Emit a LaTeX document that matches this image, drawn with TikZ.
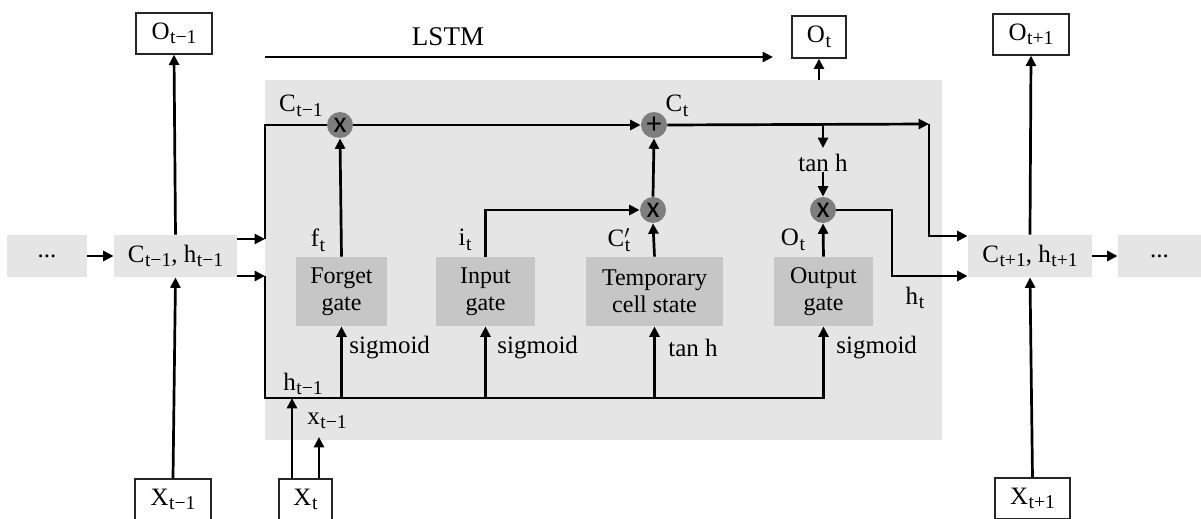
\documentclass[tikz,border=0pt]{standalone}
\usepackage{fontspec}
\setmainfont{Liberation Serif}
\newfontfamily\opfont{Carlito}
\usetikzlibrary{arrows.meta}
\definecolor{panelg}{HTML}{E5E5E5}
\definecolor{gateg}{HTML}{C6C6C6}
\definecolor{opg}{HTML}{7E7E7E}
% letter with an upright subscript, e.g. C with t−1
\newcommand{\lstmsub}[2]{#1\kern0.3pt\raisebox{-0.4ex}{\fontsize{9.8}{10}\selectfont #2}}
\begin{document}
\begin{tikzpicture}[x=0.5pt,y=-0.5pt,
  lbl/.style={font=\fontsize{12.5}{14}\selectfont, inner sep=0pt},
  gatebox/.style={fill=gateg, minimum height=34.5pt, inner sep=1pt, align=center,
    font=\fontsize{12}{13.5}\selectfont},
  statebox/.style={fill=panelg, minimum height=21pt, inner sep=0pt,
    font=\fontsize{12.5}{14}\selectfont},
  iobox/.style={draw=black!85, line width=0.6pt, fill=white, minimum height=20.5pt,
    inner sep=0pt, font=\fontsize{12.5}{14}\selectfont},
  opnode/.style={circle, fill=opg, minimum size=13pt, inner sep=0pt,
    font=\opfont\fontsize{15}{15}\selectfont},
  ln/.style={line width=1.35pt},
  arr/.style={line width=1.35pt, -{Triangle[length=5.2pt,width=5pt]}}
]
\useasboundingbox (0,0) rectangle (1201,519);
\clip (0,0) rectangle (1201,519);

% cell panel
\fill[panelg] (265,80) rectangle (942,440);

% gates
\node[gatebox, minimum width=45.5pt] (fg) at (341.5,291.5) {Forget\\gate};
\node[gatebox, minimum width=49.5pt] (ig) at (485.5,291.5) {Input\\gate};
\node[gatebox, minimum width=68.5pt] (tg) at (654.5,291.5) {Temporary\\cell state};
\node[gatebox, minimum width=49.5pt] (og) at (823.5,291.5) {Output\\gate};

% pointwise operations
\node[opnode] (fx) at (340,125) {x};
\node[opnode] (pl) at (654,125) {+};
\node[opnode] (ix) at (653,210) {x};
\node[opnode] (ox) at (823,210) {x};

% states
\node[statebox, minimum width=40pt] (dl) at (47,256) {...};
\node[statebox, minimum width=61.5pt] (cp) at (175.5,256) {\lstmsub{C}{t−1}, \lstmsub{h}{t−1}};
\node[statebox, minimum width=62pt] (cn) at (1030,256) {\lstmsub{C}{t+1}, \lstmsub{h}{t+1}};
\node[statebox, minimum width=41.5pt] (dr) at (1159.5,256) {...};

% outputs and inputs
\node[iobox, minimum width=38pt] (op) at (174,33.5) {\lstmsub{O}{t−1}};
\node[iobox, minimum width=27pt, minimum height=21pt] (oc) at (819,37) {\lstmsub{O}{t}};
\node[iobox, minimum width=38pt] (on) at (1031,34.5) {\lstmsub{O}{t+1}};
\node[iobox, minimum width=38pt] (xp) at (173,499.5) {\lstmsub{X}{t−1}};
\node[iobox, minimum width=26.5pt] (xc) at (305.5,499.5) {\lstmsub{X}{t}};
\node[iobox, minimum width=37.5pt] (xn) at (1032.5,498.5) {\lstmsub{X}{t+1}};

% labels
\node[lbl, font=\fontsize{13.5}{15}\selectfont] (lstm) at (448,37) {LSTM};
\node[lbl] (lcp) at (301,106) {\lstmsub{C}{t−1}};
\node[lbl] (lct) at (677,106) {\lstmsub{C}{t}};
\node[lbl] (lft) at (318,240) {\lstmsub{f}{t}};
\node[lbl] (lit) at (465,240) {\lstmsub{i}{t}};
\node[lbl] (lcc) at (619,240) {\lstmsub{C\rlap{$^{\prime}$}}{t}};
\node[lbl] (lot) at (793,240) {\lstmsub{O}{t}};
\node[lbl] (lht) at (915,298) {\lstmsub{h}{t}};
\node[lbl] (lhp) at (303,384) {\lstmsub{h}{t−1}};
\node[lbl] (lxp) at (327,421) {\lstmsub{x}{t−1}};
\node[lbl, anchor=west] (s1) at (349,348) {sigmoid};
\node[lbl, anchor=west] (s2) at (497,348) {sigmoid};
\node[lbl, anchor=west] (s3) at (668,348) {tan h};
\node[lbl, anchor=west] (s4) at (836,348) {sigmoid};
\node[lbl] (th) at (823,163) {tan h};

% routing points
\coordinate (la) at (265,57);
\coordinate (lb) at (773,57);
\coordinate (ca) at (265,125);
\coordinate (cb) at (265,239);
\coordinate (cc) at (265,276);
\coordinate (cd) at (265,398);
\coordinate (ce) at (929,124);
\coordinate (cf) at (929,236);
\coordinate (tt) at (823,124);
\coordinate (tb) at (823,148);
\coordinate (hb) at (892,210);
\coordinate (hc) at (892,276);
\coordinate (pt) at (819,80);
\coordinate (xi) at (319,437);

% LSTM time arrow
\draw[arr] (la) -- (lb);
\draw[arr] (pt) -- (oc.south);

% neighbouring steps
\draw[arr] (dl.east) -- (cp.west);
\draw[arr] (cn.east) -- (dr.west);
\draw[arr] (cp.north) -- (op.south);
\draw[arr] (xp.north) -- (cp.south);
\draw[arr] (cn.north) -- (on.south);
\draw[arr] (xn.north) -- (cn.south);

% into the cell
\draw[arr] (cp.east |- cb) -- (cb);
\draw[arr] (cp.east |- cc) -- (cc);
\draw[ln] (cb) -- (ca) -- (fx.west);
\draw[arr] (cc) -- (cd) -| (og.south);
\draw[arr] (fg.south |- cd) -- (fg.south);
\draw[arr] (ig.south |- cd) -- (ig.south);
\draw[arr] (tg.south |- cd) -- (tg.south);
\draw[arr] ([xshift=-6.75pt]xc.north) -- ([xshift=-6.75pt]xc.north |- cd);
\draw[arr] (xi |- xc.north) -- (xi);

% cell state path
\draw[arr] (fg.north) -- (fx.south);
\draw[arr] (fx.east) -- (pl.west);
\draw[arr] (ig.north) |- (ix.west);
\draw[arr] (tg.north) -- (ix.south);
\draw[arr] (ix.north) -- (pl.south);
\draw[arr] (pl.east) -- (ce);
\draw[arr] (ce) -- (cf) -- (cn.west |- cf);

% output path
\draw[arr] (tt) -- (tb);
\draw[arr] (th.south) -- (ox.north);
\draw[arr] (og.north) -- (ox.south);
\draw[arr] (ox.east) -- (hb) -- (hc) -- (cn.west |- hc);
\end{tikzpicture}
\end{document}
